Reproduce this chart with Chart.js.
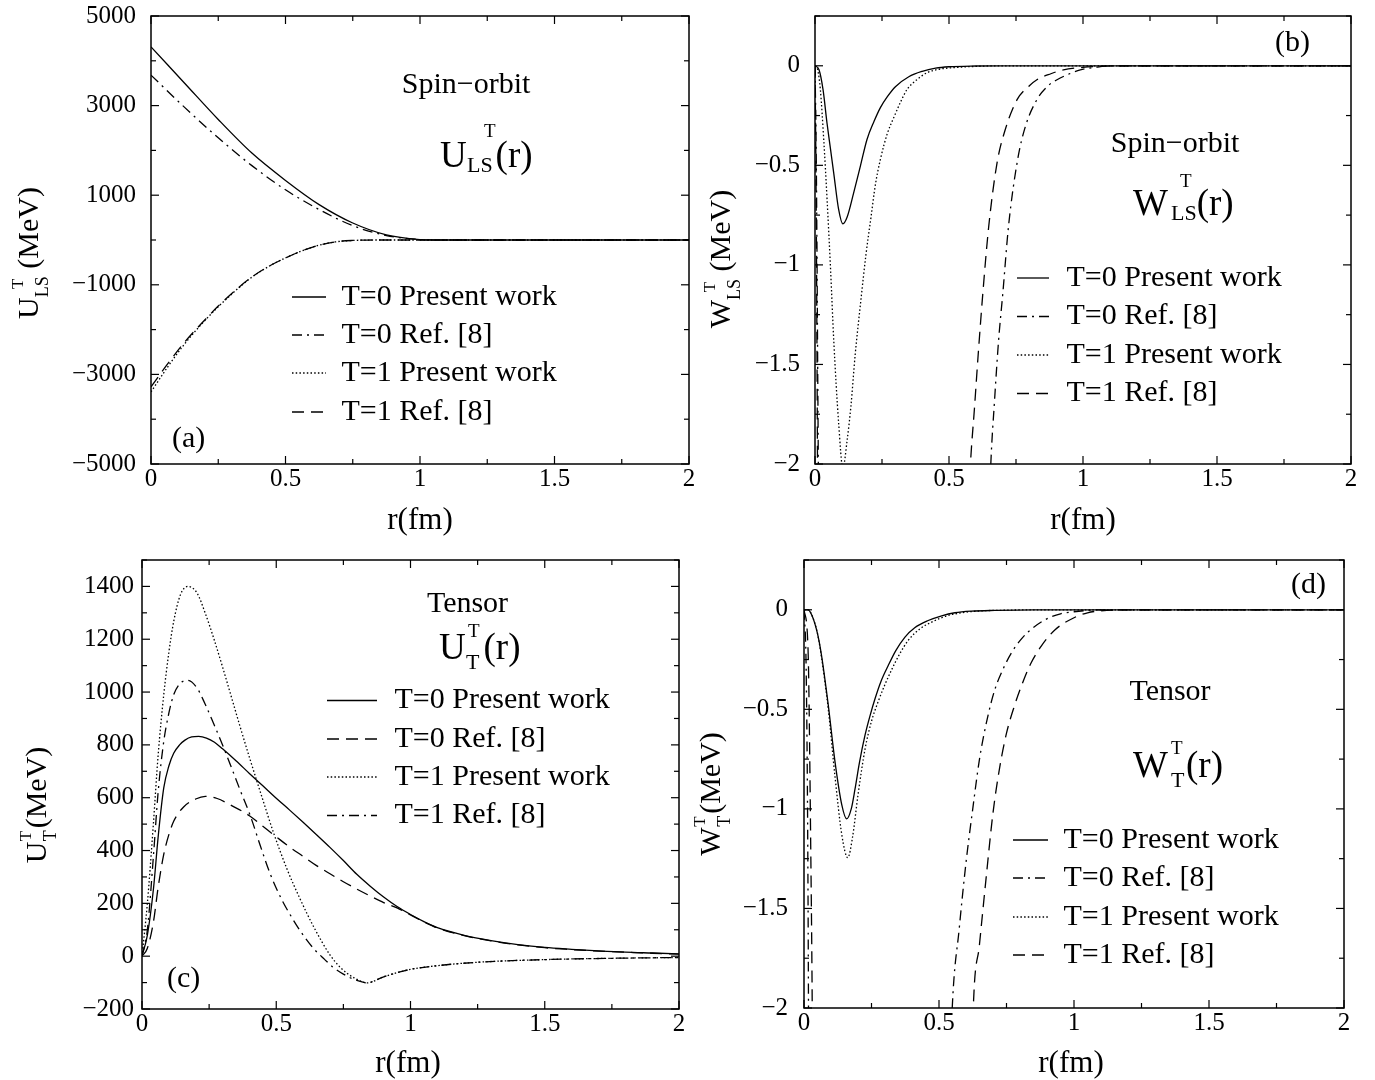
<!DOCTYPE html>
<html>
<head>
<meta charset="utf-8">
<title>Spin-orbit and tensor potentials</title>
<script src="https://cdn.jsdelivr.net/npm/chart.js@4.4.1/dist/chart.umd.min.js"></script>
<style>
  html, body { margin: 0; padding: 0; background: #fff; }
  #fig { position: relative; width: 1375px; height: 1080px; background: #fff; overflow: hidden; }
  #fig canvas { position: absolute; }
</style>
</head>
<body>
<div id="fig">
  <canvas id="pa" width="700" height="540" style="left:0px;top:0px"></canvas>
  <canvas id="pb" width="685" height="540" style="left:690px;top:0px"></canvas>
  <canvas id="pc" width="700" height="540" style="left:0px;top:540px"></canvas>
  <canvas id="pd" width="685" height="540" style="left:690px;top:540px"></canvas>
</div>
<script>
// ---------------- data ----------------
const seriesLabels = ['T=0 Present work', 'T=0 Ref. [8]', 'T=1 Present work', 'T=1 Ref. [8]'];

// axis tick labels
const xTickVals = [0, 0.5, 1, 1.5, 2];
const yTicksA = [-5000, -3000, -1000, 1000, 3000, 5000];
const yTicksB = [-2, -1.5, -1, -0.5, 0];
const yTicksC = [-200, 0, 200, 400, 600, 800, 1000, 1200, 1400];
const yTicksD = [-2, -1.5, -1, -0.5, 0];

// (a) spin-orbit real part U_LS (MeV)
const rA_t0pw = [0, 0.125, 0.25, 0.375, 0.5, 0.625, 0.75, 0.875, 1.0, 1.05, 1.2, 1.5, 2.0];
const uA_t0pw = [4310, 3500, 2690, 1940, 1330, 790, 380, 115, 10, 0, 0, 0, 0];
const rA_t0ref = [0, 0.125, 0.25, 0.375, 0.5, 0.625, 0.75, 0.875, 1.0, 1.05, 1.2, 1.5, 2.0];
const uA_t0ref = [3680, 2960, 2280, 1660, 1120, 680, 320, 100, 10, 0, 0, 0, 0];
const rA_t1pw = [0, 0.0625, 0.125, 0.1875, 0.25, 0.3125, 0.375, 0.4375, 0.5, 0.5625, 0.625, 0.6875, 0.75, 0.8, 0.85, 1.0, 1.5, 2.0];
const uA_t1pw = [-3390, -2830, -2320, -1880, -1490, -1140, -830, -590, -400, -240, -115, -40, -10, -2, 0, 0, 0, 0];
const rA_t1ref = [0, 0.0625, 0.125, 0.1875, 0.25, 0.3125, 0.375, 0.4375, 0.5, 0.5625, 0.625, 0.6875, 0.75, 0.8, 0.85, 1.0, 1.5, 2.0];
const uA_t1ref = [-3280, -2760, -2280, -1865, -1475, -1130, -825, -590, -400, -240, -115, -40, -10, -2, 0, 0, 0, 0];

// (b) spin-orbit imaginary part W_LS (MeV)
const rB_t0pw = [0, 0.015, 0.03, 0.045, 0.058, 0.07, 0.088, 0.104, 0.12, 0.144, 0.17, 0.194, 0.22, 0.244, 0.27, 0.3, 0.35, 0.4, 0.45, 0.5, 0.6, 0.7, 2.0];
const wB_t0pw = [0, -0.02, -0.12, -0.29, -0.42, -0.54, -0.72, -0.794, -0.76, -0.64, -0.5, -0.37, -0.28, -0.21, -0.155, -0.105, -0.055, -0.028, -0.012, -0.005, -0.001, 0, 0];
const rB_t0ref = [0, 0.005, 0.01, 0.016, 0.03, 0.3, 0.6, 0.63, 0.645, 0.656, 0.67, 0.685, 0.701, 0.722, 0.756, 0.785, 0.828, 0.87, 0.903, 0.95, 0.99, 1.05, 1.1, 2.0];
const wB_t0ref = [0, -0.5, -1.5, -3, -10, -60, -6, -3.0, -2.45, -2.0, -1.68, -1.38, -1.14, -0.807, -0.472, -0.305, -0.17, -0.1, -0.07, -0.04, -0.02, -0.007, 0, 0];
const rB_t1pw = [0, 0.01, 0.02, 0.033, 0.045, 0.058, 0.07, 0.088, 0.104, 0.12, 0.134, 0.15, 0.171, 0.19, 0.209, 0.225, 0.244, 0.27, 0.294, 0.32, 0.343, 0.38, 0.418, 0.46, 0.51, 0.6, 0.7, 2.0];
const wB_t1pw = [0, -0.02, -0.12, -0.38, -0.67, -1.02, -1.38, -1.79, -2.02, -1.88, -1.71, -1.45, -1.18, -0.95, -0.76, -0.6, -0.47, -0.34, -0.26, -0.18, -0.12, -0.07, -0.035, -0.018, -0.01, -0.003, 0, 0];
const rB_t1ref = [0, 0.004, 0.008, 0.012, 0.025, 0.3, 0.52, 0.545, 0.565, 0.58, 0.595, 0.61, 0.627, 0.648, 0.679, 0.71, 0.754, 0.8, 0.828, 0.88, 0.927, 1.0, 1.06, 1.15, 2.0];
const wB_t1ref = [0, -0.6, -1.6, -3, -10, -60, -6, -3.4, -2.45, -2.0, -1.72, -1.43, -1.13, -0.81, -0.49, -0.32, -0.17, -0.1, -0.07, -0.04, -0.02, -0.008, -0.003, 0, 0];

// (c) tensor real part U_T (MeV)
const rC_t0pw = [0, 0.02, 0.043, 0.06, 0.081, 0.1, 0.118, 0.14, 0.16, 0.185, 0.211, 0.24, 0.27, 0.3, 0.35, 0.4, 0.45, 0.5, 0.55, 0.6, 0.65, 0.7, 0.75, 0.8, 0.85, 0.9, 0.95, 1.0, 1.05, 1.1, 1.2, 1.3, 1.4, 1.5, 1.6, 1.7, 1.8, 1.9, 2.0];
const uC_t0pw = [0, 80, 258, 450, 637, 720, 768, 800, 818, 830, 832, 826, 810, 785, 740, 692, 645, 598, 553, 507, 460, 412, 362, 310, 265, 224, 188, 158, 131, 108, 79, 59, 44, 33, 26, 20, 15, 12, 9];
const rC_t0ref = [0, 0.02, 0.043, 0.06, 0.081, 0.1, 0.118, 0.155, 0.2, 0.236, 0.28, 0.33, 0.4, 0.45, 0.5, 0.55, 0.6, 0.65, 0.7, 0.75, 0.8, 0.85, 0.9, 0.95, 1.0, 1.05, 1.1, 1.2, 1.3, 1.4, 1.5, 1.6, 1.7, 1.8, 1.9, 2.0];
const uC_t0ref = [0, 30, 132, 260, 385, 460, 511, 565, 595, 605, 597, 572, 532, 492, 452, 413, 378, 343, 312, 282, 254, 228, 203, 183, 156, 130, 107, 78, 58, 43, 32, 25, 19, 15, 11, 8];
const rC_t1pw = [0, 0.02, 0.043, 0.06, 0.081, 0.1, 0.118, 0.143, 0.171, 0.205, 0.235, 0.267, 0.3, 0.329, 0.365, 0.404, 0.45, 0.49, 0.54, 0.59, 0.64, 0.7, 0.739, 0.79, 0.839, 0.9, 1.0, 1.1, 1.25, 1.5, 1.75, 2.0];
const uC_t1pw = [0, 200, 510, 760, 990, 1150, 1267, 1368, 1400, 1375, 1300, 1204, 1095, 995, 870, 740, 592, 467, 330, 214, 110, 5, -43, -82, -101, -78, -50, -36, -23, -13, -8, -5];
const rC_t1ref = [0, 0.02, 0.043, 0.06, 0.081, 0.1, 0.118, 0.143, 0.171, 0.205, 0.235, 0.267, 0.3, 0.329, 0.365, 0.404, 0.44, 0.478, 0.52, 0.55, 0.59, 0.64, 0.68, 0.714, 0.75, 0.8, 0.839, 0.9, 1.0, 1.1, 1.25, 1.5, 1.75, 2.0];
const uC_t1ref = [0, 100, 385, 620, 813, 920, 990, 1034, 1044, 1015, 955, 880, 800, 725, 630, 530, 420, 310, 215, 160, 95, 28, -12, -44, -68, -92, -101, -78, -50, -36, -23, -13, -8, -5];

// (d) tensor imaginary part W_T (MeV)
const rD_t0pw = [0, 0.015, 0.03, 0.05, 0.065, 0.09, 0.115, 0.14, 0.158, 0.175, 0.189, 0.205, 0.226, 0.245, 0.263, 0.285, 0.312, 0.34, 0.374, 0.41, 0.46, 0.51, 0.559, 0.62, 0.707, 0.85, 2.0];
const wD_t0pw = [0, 0, -0.03, -0.12, -0.23, -0.48, -0.765, -0.98, -1.05, -1.0, -0.9, -0.77, -0.63, -0.53, -0.447, -0.36, -0.28, -0.205, -0.137, -0.09, -0.054, -0.03, -0.015, -0.007, -0.003, 0, 0];
const rD_t0ref = [0, 0.008, 0.014, 0.018, 0.03, 0.3, 0.5, 0.53, 0.549, 0.575, 0.6, 0.625, 0.65, 0.68, 0.707, 0.74, 0.769, 0.8, 0.831, 0.893, 0.95, 1.0, 1.1, 2.0];
const wD_t0ref = [0, -0.3, -1.2, -2.5, -8, -60, -6, -2.8, -2.0, -1.6, -1.27, -1.0, -0.75, -0.54, -0.40, -0.29, -0.215, -0.155, -0.11, -0.05, -0.02, -0.01, 0, 0];
const rD_t1pw = [0, 0.015, 0.03, 0.05, 0.065, 0.09, 0.115, 0.14, 0.162, 0.18, 0.2, 0.226, 0.25, 0.275, 0.3, 0.325, 0.355, 0.386, 0.43, 0.473, 0.53, 0.584, 0.65, 0.75, 0.85, 2.0];
const wD_t1pw = [0, 0, -0.03, -0.12, -0.24, -0.5, -0.84, -1.13, -1.245, -1.14, -0.93, -0.7, -0.56, -0.46, -0.375, -0.30, -0.22, -0.154, -0.095, -0.062, -0.03, -0.015, -0.006, -0.002, 0, 0];
const rD_t1ref = [0, 0.015, 0.025, 0.031, 0.045, 0.3, 0.58, 0.61, 0.627, 0.65, 0.675, 0.7, 0.725, 0.75, 0.78, 0.806, 0.84, 0.88, 0.93, 1.0, 1.05, 1.1, 1.2, 2.0];
const wD_t1ref = [0, -0.2, -1.2, -2.1, -6, -60, -7, -3, -2.0, -1.68, -1.34, -1.02, -0.79, -0.62, -0.48, -0.38, -0.27, -0.18, -0.1, -0.04, -0.015, -0.005, 0, 0];

// ---------------- drawing helpers ----------------
const FONT = '"Liberation Serif", "Times New Roman", serif';
const DASH = { solid: [], dashed: [12, 7], dashdot: [10, 5, 2, 5], dotted: [1.5, 2.2] };

Chart.defaults.font.family = FONT;
Chart.defaults.color = '#000';

function fmt(v) {
  const s = String(Math.abs(+v.toFixed(6)));
  return (v < 0 ? '\u2212' : '') + s;
}

function range(min, max, step) {
  const out = [];
  for (let v = min; v <= max + 1e-9; v += step) out.push(+v.toFixed(6));
  return out;
}

// draws text made of pieces with their own size and baseline shift
function drawParts(ctx, parts, x0, y0, draw) {
  let pen = 0;
  for (const p of parts) {
    ctx.font = p.size + 'px ' + FONT;
    const at = p.at !== undefined ? p.at : pen;
    if (draw) ctx.fillText(p.t, x0 + at, y0 + (p.dy || 0));
    pen = Math.max(pen, at + ctx.measureText(p.t).width);
  }
  return pen;
}

function segment(ctx, x1, y1, x2, y2) {
  ctx.beginPath();
  ctx.moveTo(x1, y1);
  ctx.lineTo(x2, y2);
  ctx.stroke();
}

function decor(spec) {
  return {
    id: 'decor',
    afterDatasetsDraw(chart) {
      const ctx = chart.ctx, a = chart.chartArea;
      const sx = chart.scales.x, sy = chart.scales.y;
      ctx.save();
      ctx.setLineDash([]);
      ctx.strokeStyle = '#000';
      ctx.fillStyle = '#000';

      // inward tick marks on all four sides
      ctx.lineWidth = 1.2;
      range(0, 2, 0.25).forEach(v => {
        const p = sx.getPixelForValue(v);
        const len = xTickVals.some(t => Math.abs(t - v) < 1e-9) ? 8 : 5;
        segment(ctx, p, a.bottom, p, a.bottom - len);
        segment(ctx, p, a.top, p, a.top + len);
      });
      range(spec.yMin, spec.yMax, spec.yMinorStep).forEach(v => {
        const p = sy.getPixelForValue(v);
        const len = spec.yTicks.some(t => Math.abs(t - v) < 1e-9) ? 8 : 5;
        segment(ctx, a.left, p, a.left + len, p);
        segment(ctx, a.right, p, a.right - len, p);
      });

      // frame
      ctx.lineWidth = 1.5;
      ctx.strokeRect(a.left, a.top, a.right - a.left, a.bottom - a.top);

      // plain labels
      ctx.textBaseline = 'alphabetic';
      spec.texts.forEach(t => {
        ctx.font = t.size + 'px ' + FONT;
        ctx.textAlign = t.align || 'left';
        ctx.fillText(t.t, t.x, t.y);
      });
      ctx.textAlign = 'left';

      // potential symbol with sub/superscripts
      drawParts(ctx, spec.formula.parts, spec.formula.x, spec.formula.y, true);

      // legend
      const lg = spec.legend;
      chart.data.datasets.forEach((ds, i) => {
        const y = lg.rows[i];
        ctx.lineWidth = 1.3;
        ctx.setLineDash(ds.borderDash || []);
        segment(ctx, lg.x1, y, lg.x2, y);
        ctx.setLineDash([]);
        ctx.font = lg.size + 'px ' + FONT;
        ctx.textBaseline = 'middle';
        ctx.fillText(ds.label, lg.tx, y);
      });
      ctx.textBaseline = 'alphabetic';

      // x axis title
      ctx.font = spec.xTitle.size + 'px ' + FONT;
      ctx.textAlign = 'center';
      ctx.fillText('r(fm)', spec.xTitle.x, spec.xTitle.y);
      ctx.textAlign = 'left';

      // y axis title, rotated
      const yt = spec.yTitle;
      ctx.save();
      ctx.translate(yt.x, yt.y);
      ctx.rotate(-Math.PI / 2);
      const w = drawParts(ctx, yt.parts, 0, 0, false);
      drawParts(ctx, yt.parts, -w / 2, 0, true);
      ctx.restore();

      ctx.restore();
    }
  };
}

function makeSeries(r, v, label, style) {
  return {
    label: label,
    data: r.map((x, i) => ({ x: x, y: v[i] })),
    borderColor: '#000',
    borderWidth: 1.3,
    borderDash: DASH[style],
    pointRadius: 0,
    cubicInterpolationMode: 'monotone',
    fill: false
  };
}

// the plot frame is fixed by the panel spec; label overhang must not move it
function noOverhang(s) {
  s.paddingTop = 0; s.paddingBottom = 0; s.paddingLeft = 0; s.paddingRight = 0;
}

function makeChart(id, spec) {
  const cv = document.getElementById(id);
  const W = cv.width, H = cv.height, xAxisH = 40;
  return new Chart(cv, {
    type: 'line',
    data: { datasets: spec.series },
    options: {
      responsive: false,
      animation: false,
      events: [],
      layout: {
        padding: { left: 0, top: spec.area.top, right: W - spec.area.right, bottom: H - spec.area.bottom - xAxisH }
      },
      plugins: { legend: { display: false }, tooltip: { enabled: false } },
      scales: {
        x: {
          type: 'linear', min: 0, max: 2,
          grid: { display: false, drawTicks: false },
          border: { display: false },
          ticks: { autoSkip: false, maxRotation: 0, minRotation: 0, padding: 0, font: { size: 25, family: FONT }, color: '#000', callback: v => fmt(v) },
          afterBuildTicks: s => { s.ticks = xTickVals.map(v => ({ value: v })); },
          afterFit: s => { s.height = xAxisH; noOverhang(s); }
        },
        y: {
          type: 'linear', min: spec.yMin, max: spec.yMax,
          grid: { display: false, drawTicks: false },
          border: { display: false },
          ticks: { autoSkip: false, padding: spec.yPad, font: { size: 25, family: FONT }, color: '#000', callback: v => fmt(v) },
          afterBuildTicks: s => { s.ticks = spec.yTicks.map(v => ({ value: v })); },
          afterFit: s => { s.width = spec.area.left; noOverhang(s); }
        }
      }
    },
    plugins: [decor(spec)]
  });
}

// ---------------- panels ----------------
makeChart('pa', {
  area: { left: 151, right: 689, top: 16, bottom: 464 },
  yMin: -5000, yMax: 5000, yTicks: yTicksA, yMinorStep: 1000, yPad: 15,
  series: [
    makeSeries(rA_t0pw, uA_t0pw, seriesLabels[0], 'solid'),
    makeSeries(rA_t0ref, uA_t0ref, seriesLabels[1], 'dashdot'),
    makeSeries(rA_t1pw, uA_t1pw, seriesLabels[2], 'dotted'),
    makeSeries(rA_t1ref, uA_t1ref, seriesLabels[3], 'dashed')
  ],
  texts: [
    { t: 'Spin\u2212orbit', x: 466, y: 93, size: 30, align: 'center' },
    { t: '(a)', x: 172, y: 447, size: 30 }
  ],
  formula: { x: 440, y: 167, parts: [
    { t: 'U', size: 37 }, { t: 'LS', size: 22, dy: 5, at: 27 }, { t: 'T', size: 19, dy: -30, at: 44 }, { t: '(r)', size: 37 }
  ] },
  legend: { x1: 292, x2: 326, tx: 341.5, rows: [297, 335, 373, 412], size: 30 },
  xTitle: { x: 420, y: 529, size: 31 },
  yTitle: { x: 38, y: 253, parts: [
    { t: 'U', size: 30 }, { t: 'LS', size: 18, dy: 10 }, { t: 'T', size: 17, dy: -15, at: 30 }, { t: ' (MeV)', size: 30 }
  ] }
});

makeChart('pb', {
  area: { left: 125, right: 661, top: 16, bottom: 464 },
  yMin: -2, yMax: 0.25, yTicks: yTicksB, yMinorStep: 0.25, yPad: 15,
  series: [
    makeSeries(rB_t0pw, wB_t0pw, seriesLabels[0], 'solid'),
    makeSeries(rB_t0ref, wB_t0ref, seriesLabels[1], 'dashdot'),
    makeSeries(rB_t1pw, wB_t1pw, seriesLabels[2], 'dotted'),
    makeSeries(rB_t1ref, wB_t1ref, seriesLabels[3], 'dashed')
  ],
  texts: [
    { t: 'Spin\u2212orbit', x: 485, y: 152, size: 30, align: 'center' },
    { t: '(b)', x: 585, y: 51, size: 30 }
  ],
  formula: { x: 443, y: 215, parts: [
    { t: 'W', size: 37 }, { t: 'LS', size: 22, dy: 5, at: 38 }, { t: 'T', size: 19, dy: -28, at: 47 }, { t: '(r)', size: 37 }
  ] },
  legend: { x1: 327, x2: 359, tx: 376.5, rows: [278, 316.5, 355, 393.5], size: 30 },
  xTitle: { x: 393, y: 529, size: 31 },
  yTitle: { x: 40, y: 259, parts: [
    { t: 'W', size: 30 }, { t: 'LS', size: 18, dy: 10 }, { t: 'T', size: 17, dy: -15, at: 36 }, { t: ' (MeV)', size: 30 }
  ] }
});

makeChart('pc', {
  area: { left: 142, right: 679, top: 20, bottom: 469 },
  yMin: -200, yMax: 1500, yTicks: yTicksC, yMinorStep: 100, yPad: 8,
  series: [
    makeSeries(rC_t0pw, uC_t0pw, seriesLabels[0], 'solid'),
    makeSeries(rC_t0ref, uC_t0ref, seriesLabels[1], 'dashed'),
    makeSeries(rC_t1pw, uC_t1pw, seriesLabels[2], 'dotted'),
    makeSeries(rC_t1ref, uC_t1ref, seriesLabels[3], 'dashdot')
  ],
  texts: [
    { t: 'Tensor', x: 467.5, y: 72, size: 30, align: 'center' },
    { t: '(c)', x: 167, y: 447, size: 30 }
  ],
  formula: { x: 439, y: 119, parts: [
    { t: 'U', size: 37 }, { t: 'T', size: 22, dy: 10, at: 27 }, { t: 'T', size: 19, dy: -22, at: 29 }, { t: '(r)', size: 37, at: 44.5 }
  ] },
  legend: { x1: 327, x2: 377, tx: 394.5, rows: [160.5, 199, 237, 275.5], size: 30 },
  xTitle: { x: 408, y: 532, size: 31 },
  yTitle: { x: 46, y: 265, parts: [
    { t: 'U', size: 30 }, { t: 'T', size: 18, dy: 10, at: 22 }, { t: 'T', size: 17, dy: -15, at: 22 }, { t: '(MeV)', size: 30, at: 35 }
  ] }
});

makeChart('pd', {
  area: { left: 114, right: 654, top: 20, bottom: 468 },
  yMin: -2, yMax: 0.25, yTicks: yTicksD, yMinorStep: 0.25, yPad: 16,
  series: [
    makeSeries(rD_t0pw, wD_t0pw, seriesLabels[0], 'solid'),
    makeSeries(rD_t0ref, wD_t0ref, seriesLabels[1], 'dashdot'),
    makeSeries(rD_t1pw, wD_t1pw, seriesLabels[2], 'dotted'),
    makeSeries(rD_t1ref, wD_t1ref, seriesLabels[3], 'dashed')
  ],
  texts: [
    { t: 'Tensor', x: 480, y: 160, size: 30, align: 'center' },
    { t: '(d)', x: 601, y: 53, size: 30 }
  ],
  formula: { x: 443, y: 237, parts: [
    { t: 'W', size: 37 }, { t: 'T', size: 22, dy: 10, at: 38 }, { t: 'T', size: 19, dy: -23, at: 38 }, { t: '(r)', size: 37, at: 53 }
  ] },
  legend: { x1: 323, x2: 358, tx: 373.5, rows: [300, 338, 377, 415], size: 30 },
  xTitle: { x: 381, y: 532, size: 31 },
  yTitle: { x: 30, y: 254, parts: [
    { t: 'W', size: 30 }, { t: 'T', size: 18, dy: 10, at: 29 }, { t: 'T', size: 17, dy: -15, at: 29 }, { t: '(MeV)', size: 30, at: 42 }
  ] }
});
</script>
</body>
</html>
